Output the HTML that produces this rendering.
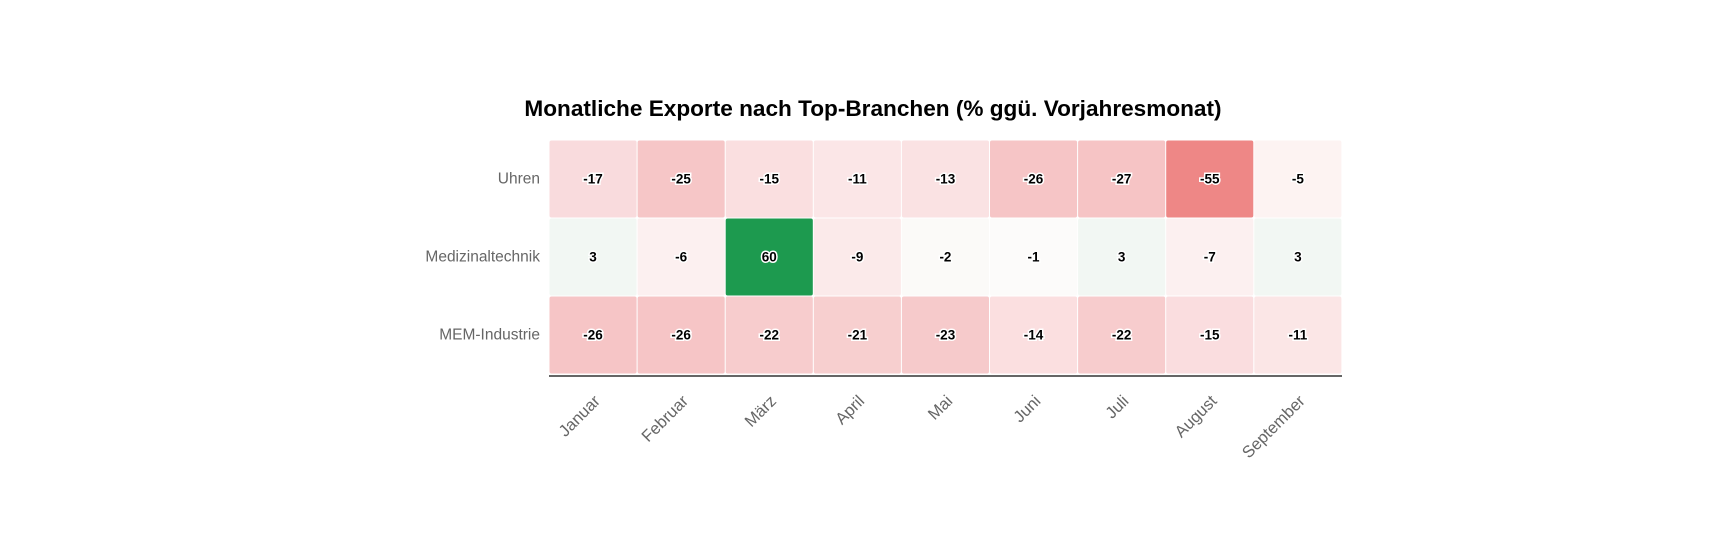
<!DOCTYPE html>
<html><head><meta charset="utf-8"><style>
html,body{margin:0;padding:0;background:#fff;width:1718px;height:533px;overflow:hidden}
svg text{font-family:"Liberation Sans",sans-serif}
.v{font-size:13.5px;font-weight:bold;fill:#000;stroke:#fff;stroke-width:3px;paint-order:stroke;text-anchor:middle;dominant-baseline:central}
.r{font-size:15.5px;fill:#666;text-anchor:end;dominant-baseline:central}
.x{font-size:16.5px;fill:#666;text-anchor:end}
</style></head><body>
<svg width="1718" height="533" xmlns="http://www.w3.org/2000/svg">
<text x="873" y="116" text-anchor="middle" font-size="22.6" font-weight="bold" fill="#000">Monatliche Exporte nach Top-Branchen (% ggü. Vorjahresmonat)</text>
<g id="cells"></g>
<line x1="549" y1="376" x2="1342" y2="376" stroke="#333" stroke-width="1.5"/>
<text class="r" x="540" y="179">Uhren</text>
<text class="r" x="540" y="257">Medizinaltechnik</text>
<text class="r" x="540" y="335">MEM-Industrie</text>
</svg>
<script>
const vals=[[-17,-25,-15,-11,-13,-26,-27,-55,-5],[3,-6,60,-9,-2,-1,3,-7,3],[-26,-26,-22,-21,-23,-14,-22,-15,-11]];
const cols=[["#f9dbdd","#f6c6c7","#fadfe0","#fbe6e7","#fae2e3","#f6c5c6","#f6c4c5","#ee8786","#fdf3f2"],
["#f2f7f3","#fcf0f0","#1d9a4f","#fbeaea","#fbfaf8","#fcfbfa","#f2f7f3","#fcf0f0","#f2f7f3"],
["#f6c5c6","#f6c5c6","#f7cccd","#f7cfcf","#f6cacb","#fbdfe0","#f7cccd","#fadddf","#fbe6e6"]];
const months=["Januar","Februar","März","April","Mai","Juni","Juli","August","September"];
const g=document.getElementById('cells');
const x0=549,y0=140,cw=88.1,rh=78;let s="";
for(let r=0;r<3;r++)for(let c=0;c<9;c++){
 const x=x0+c*cw,y=y0+r*rh;
 s+=`<rect x="${x+0.5}" y="${y+0.5}" width="${cw-1}" height="${rh-1}" rx="2" fill="${cols[r][c]}"/>`;
 s+=`<text class="v" x="${x+cw/2}" y="${y+rh/2}">${vals[r][c]}</text>`;}
for(let c=0;c<9;c++){const cx=x0+c*cw+cw/2+8;
 s+=`<text class="x" transform="translate(${cx},402) rotate(-45)">${months[c]}</text>`;}
g.innerHTML=s;
</script>
</body></html>
